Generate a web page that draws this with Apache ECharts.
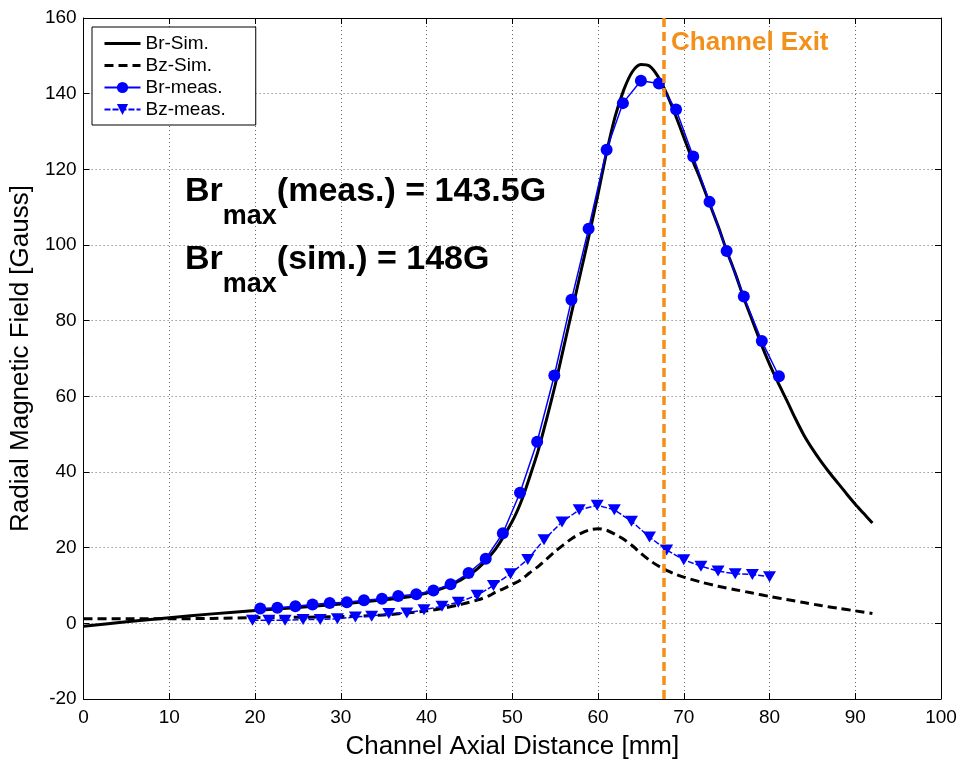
<!DOCTYPE html>
<html><head><meta charset="utf-8">
<script src="https://cdn.jsdelivr.net/npm/echarts@6/dist/echarts.min.js"></script>
<style>html,body{margin:0;padding:0;background:#fff}#c{width:967px;height:765px}</style>
</head><body><div id="c"></div>
<script>
// ---- data ----
const xTicks = [0,10,20,30,40,50,60,70,80,90,100];
const yTicks = [-20,0,20,40,60,80,100,120,140,160];

const brSimX = [0,5,10,15,20,25,30,35,38,40,42,44,46,48,50,51,52,53,54,55,56,57,58,59,60,61,62,63,64,65,66,67,68,69,70,71,72,73,74,75,76,77,78,79,80,81,82,83,84,85,86,87,88,89,90,91,92];
const brSimY = [-0.8,0.4,1.5,2.5,3.4,4.2,5.1,6.2,7.0,8.0,9.4,11.5,14.5,19.5,27,32,38.5,45.5,54,63,73,83,93,103,113.5,124.5,134,141,145.8,147.7,147.3,144.5,140,134.5,128.5,122.5,117,111,105,98.5,92.5,86,80,74,68.5,63.6,59,54.2,49.8,46.1,42.8,39.8,37,34.2,31.5,29,26.5];

const bzSimX = [0,5,10,15,20,25,30,35,40,42,44,46,47.4,48,49,50,51,52,53,54,55,56,57,58,59,60,61,62,63,64,65,66,67,68,69,70,72,74,76,78,80,82,84,86,88,90,92];
const bzSimY = [1.2,1.2,1.2,1.3,1.5,1.6,1.8,2.2,3.3,4.0,5.0,6.2,7.4,8.2,9.2,10.3,11.5,13.3,15.0,17.0,19.0,20.8,22.5,23.8,24.7,25.0,24.6,23.5,22.2,20.5,18.5,16.7,15.2,14.0,13.0,12.2,10.9,9.8,8.9,8.0,7.1,6.3,5.5,4.7,4.0,3.3,2.6];

const brMeasX = [20.6,22.6,24.7,26.7,28.7,30.7,32.7,34.8,36.7,38.8,40.8,42.8,44.9,46.9,48.9,50.9,52.9,54.9,56.9,58.9,61.0,62.9,65.0,67.1,69.1,71.1,73.0,75.0,77.0,79.1,81.1];
const brMeasY = [3.9,4.1,4.5,5.0,5.4,5.6,6.1,6.5,7.2,7.7,8.7,10.3,13.3,17.1,23.8,34.5,48,65.5,85.5,104.3,125.2,137.5,143.4,142.7,135.8,123.4,111.4,98.4,86.4,74.6,65.3];

const bzMeasX = [19.7,21.6,23.5,25.6,27.6,29.6,31.7,33.6,35.6,37.7,39.7,41.8,43.7,45.9,47.8,49.8,51.8,53.7,55.8,57.8,59.9,61.9,63.9,66.0,68.0,70.0,72.0,74.0,76.0,78.0,80.0];
const bzMeasY = [0.8,0.8,0.8,1.0,1.0,1.2,1.7,1.9,2.6,2.7,3.6,4.5,5.6,7.4,10.0,13.1,16.9,22.1,26.8,30.0,31.2,30.0,27.0,22.8,19.4,16.8,15.1,13.8,13.1,12.9,12.3];

const seriesNames = ['Br-Sim.','Bz-Sim.','Br-meas.','Bz-meas.'];
const channelExitX = 67.7;
const channelExitLabel = 'Channel Exit';
const xTitle = 'Channel Axial Distance [mm]';
const yTitle = 'Radial Magnetic Field [Gauss]';
const annotMeas = ['Br','max','(meas.) = 143.5G'];
const annotSim = ['Br','max','(sim.) = 148G'];

(function () {
const FONT = "'Liberation Sans', Arial, Helvetica, sans-serif";
const ORANGE = '#F39019';
const BLUE = '#0000FF';
const zip = (xs, ys) => xs.map((x, i) => [x, ys[i]]);
const interval = (t) => t[1] - t[0];

const baseAxis = {
  type: 'value',
  axisLine: {onZero: false, lineStyle: {color: '#000', width: 1}},
  axisTick: {inside: true, length: 6, lineStyle: {color: '#000', width: 1}},
};

const chart = echarts.init(document.getElementById('c'), null, {renderer: 'canvas'});
const option = {
  animation: false,
  backgroundColor: '#fff',
  grid: {left: 83, right: 26, top: 18, bottom: 66},
  legend: {
    orient: 'vertical', left: 92, top: 27,
    backgroundColor: '#fff', borderColor: '#000', borderWidth: 1, borderRadius: 0,
    padding: [7, 30, 6, 11], itemGap: 3, itemWidth: 36, itemHeight: 14, itemTextGap: 16,
    textStyle: {fontSize: 19, color: '#000', fontFamily: FONT},
    data: [
      {name: seriesNames[0], itemStyle: {opacity: 0}, lineStyle: {width: 3}},
      {name: seriesNames[1], itemStyle: {opacity: 0}, lineStyle: {width: 3}},
      {name: seriesNames[2]},
      {name: seriesNames[3]}
    ]
  },
  xAxis: [
    Object.assign({}, baseAxis, {
      min: xTicks[0], max: xTicks[xTicks.length - 1], interval: interval(xTicks), position: 'bottom',
      name: xTitle, nameLocation: 'middle', nameGap: 35,
      nameTextStyle: {fontSize: 26, color: '#000', fontFamily: FONT},
      axisLabel: {color: '#000', fontSize: 19, fontFamily: FONT, margin: 9},
      splitLine: {show: true, lineStyle: {color: '#666', type: [1, 3], width: 1}}
    }),
    Object.assign({}, baseAxis, {
      min: xTicks[0], max: xTicks[xTicks.length - 1], interval: interval(xTicks), position: 'top',
      axisLabel: {show: false}, splitLine: {show: false}
    })
  ],
  yAxis: [
    Object.assign({}, baseAxis, {
      min: yTicks[0], max: yTicks[yTicks.length - 1], interval: interval(yTicks), position: 'left',
      name: yTitle, nameLocation: 'middle', nameGap: 36,
      nameTextStyle: {fontSize: 26, color: '#000', fontFamily: FONT},
      axisLabel: {color: '#000', fontSize: 19, fontFamily: FONT, margin: 7},
      splitLine: {show: true, lineStyle: {color: '#666', type: [1, 3], width: 1}}
    }),
    Object.assign({}, baseAxis, {
      min: yTicks[0], max: yTicks[yTicks.length - 1], interval: interval(yTicks), position: 'right',
      axisLabel: {show: false}, splitLine: {show: false}
    })
  ],
  series: [
    {name: seriesNames[0], type: 'line', data: zip(brSimX, brSimY), smooth: 0.3, symbol: 'none',
     lineStyle: {color: '#000', width: 3}, itemStyle: {color: '#000'}, z: 2},
    {name: seriesNames[1], type: 'line', data: zip(bzSimX, bzSimY), smooth: 0.3, symbol: 'none',
     lineStyle: {color: '#000', width: 3, type: [9, 5]}, itemStyle: {color: '#000'}, z: 2},
    {name: seriesNames[2], type: 'line', data: zip(brMeasX, brMeasY), symbol: 'circle', symbolSize: 12,
     lineStyle: {color: BLUE, width: 1.5}, itemStyle: {color: BLUE}, z: 3},
    {name: seriesNames[3], type: 'line', data: zip(bzMeasX, bzMeasY), symbol: 'triangle', symbolSize: [13, 11], symbolRotate: 180,
     lineStyle: {color: BLUE, width: 1.5, type: [6, 2]}, itemStyle: {color: BLUE}, z: 3,
     markLine: {silent: true, symbol: 'none', animation: false, label: {show: false},
       lineStyle: {color: ORANGE, type: [9, 5], width: 3.5},
       data: [{xAxis: channelExitX}]}}
  ]
};
chart.setOption(option);

const exitTop = chart.convertToPixel({xAxisIndex: 0, yAxisIndex: 0}, [channelExitX, yTicks[yTicks.length - 1]]);
const richA = {fontSize: 34, fontWeight: 'bold', fontFamily: FONT, lineHeight: 38, verticalAlign: 'top', fill: '#000', color: '#000'};
const richB = {fontSize: 27, fontWeight: 'bold', fontFamily: FONT, lineHeight: 84, fill: '#000', color: '#000'};
chart.setOption({
  graphic: [
    {type: 'text', left: exitTop[0] + 7, top: exitTop[1] + 12, z: 100,
     style: {text: channelExitLabel, fill: ORANGE, font: "bold 26px " + FONT}},
    {type: 'text', left: 185, top: 175, z: 100,
     style: {text: '{a|' + annotMeas[0] + '}{b|' + annotMeas[1] + '}{a|' + annotMeas[2] + '}', rich: {a: richA, b: richB}, fill: '#000'}},
    {type: 'text', left: 185, top: 243, z: 100,
     style: {text: '{a|' + annotSim[0] + '}{b|' + annotSim[1] + '}{a|' + annotSim[2] + '}', rich: {a: richA, b: richB}, fill: '#000'}}
  ]
});
})();
</script>
</body></html>
